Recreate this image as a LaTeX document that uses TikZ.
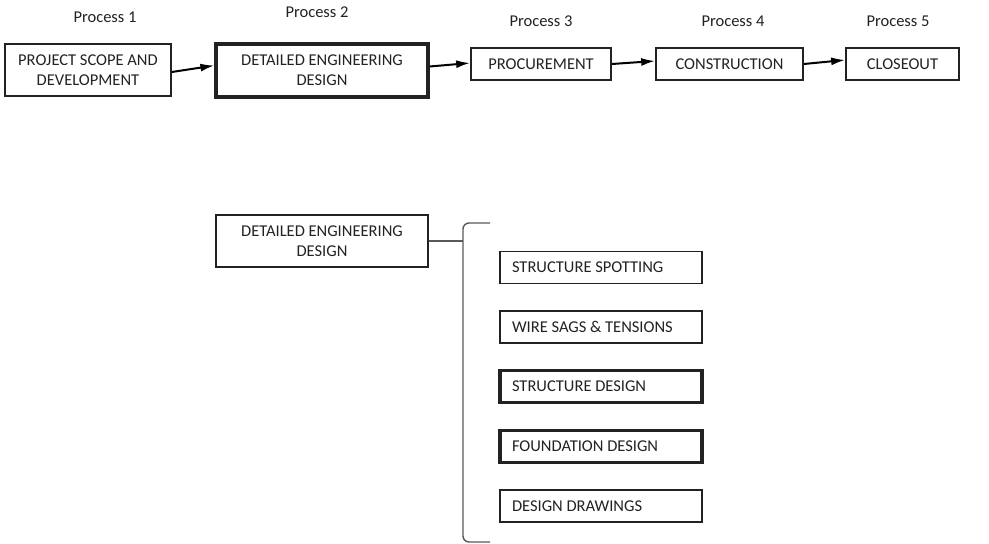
\documentclass[tikz,border=0pt]{standalone}
\usepackage{fontspec}
\setmainfont{Carlito}
\usetikzlibrary{arrows.meta}
\definecolor{ink}{HTML}{222222}
\begin{document}
\begin{tikzpicture}[x=1pt,y=-1pt,
  every node/.style={text=ink, font=\fontsize{16.5}{20}\selectfont},
  procbox/.style={draw=ink, line width=1.7pt, inner sep=0pt, align=center},
  keybox/.style={procbox, line width=3.2pt},
  subbox/.style={draw=ink, line width=1.7pt, inner sep=0pt, minimum width=202pt, minimum height=32pt, text width=178pt, align=flush left},
  subkey/.style={subbox, line width=3.2pt},
  flow/.style={draw=black, line width=2pt, -{Latex[length=14pt,width=8pt]}},
  branch/.style={draw=ink!75, line width=1.4pt}]
\useasboundingbox (0,0) rectangle (989,544);

% main process chain
\node[procbox, minimum width=166pt, minimum height=52pt] (b1) at (88,70) {PROJECT SCOPE AND\\DEVELOPMENT};
\node[keybox, minimum width=212pt, minimum height=53pt] (b2) at (322,70.5) {DETAILED ENGINEERING\\DESIGN};
\node[procbox, minimum width=140pt, minimum height=32pt] (b3) at (541,64) {PROCUREMENT};
\node[procbox, minimum width=147pt, minimum height=32pt] (b4) at (729.5,64) {CONSTRUCTION};
\node[procbox, minimum width=113pt, minimum height=32pt] (b5) at (902.5,64) {CLOSEOUT};

\node (p1) at (105,17) {Process 1};
\node (p2) at (317,12) {Process 2};
\node (p3) at (541,21) {Process 3};
\node (p4) at (733,21) {Process 4};
\node (p5) at (898,21) {Process 5};

\draw[flow] ([yshift=-2pt]b1.east) -- ([yshift=5pt]b2.west);
\draw[flow] ([yshift=4pt]b2.east) -- ([yshift=1pt]b3.west);
\draw[flow] ([yshift=0pt]b3.east) -- ([yshift=3pt]b4.west);
\draw[flow] ([yshift=0pt]b4.east) -- ([yshift=4pt]b5.west);

% breakdown of the design stage
\node[procbox, minimum width=212pt, minimum height=52pt] (d) at (322,241) {DETAILED ENGINEERING\\DESIGN};
\coordinate (bt) at (490,223);
\coordinate (bj) at (463,241);
\coordinate (bb) at (490,542);
\draw[branch, rounded corners=6pt] (bt) -- (463,223) -- (463,542) -- (bb);
\draw[branch] (d.east) -- (bj);

\node[subbox] (s1) at (601,267.5) {STRUCTURE SPOTTING};
\node[subbox] (s2) at (601,327) {WIRE SAGS \& TENSIONS};
\node[subkey] (s3) at (601,386.5) {STRUCTURE DESIGN};
\node[subkey] (s4) at (601,446.5) {FOUNDATION DESIGN};
\node[subbox] (s5) at (601,506) {DESIGN DRAWINGS};
\end{tikzpicture}
\end{document}
